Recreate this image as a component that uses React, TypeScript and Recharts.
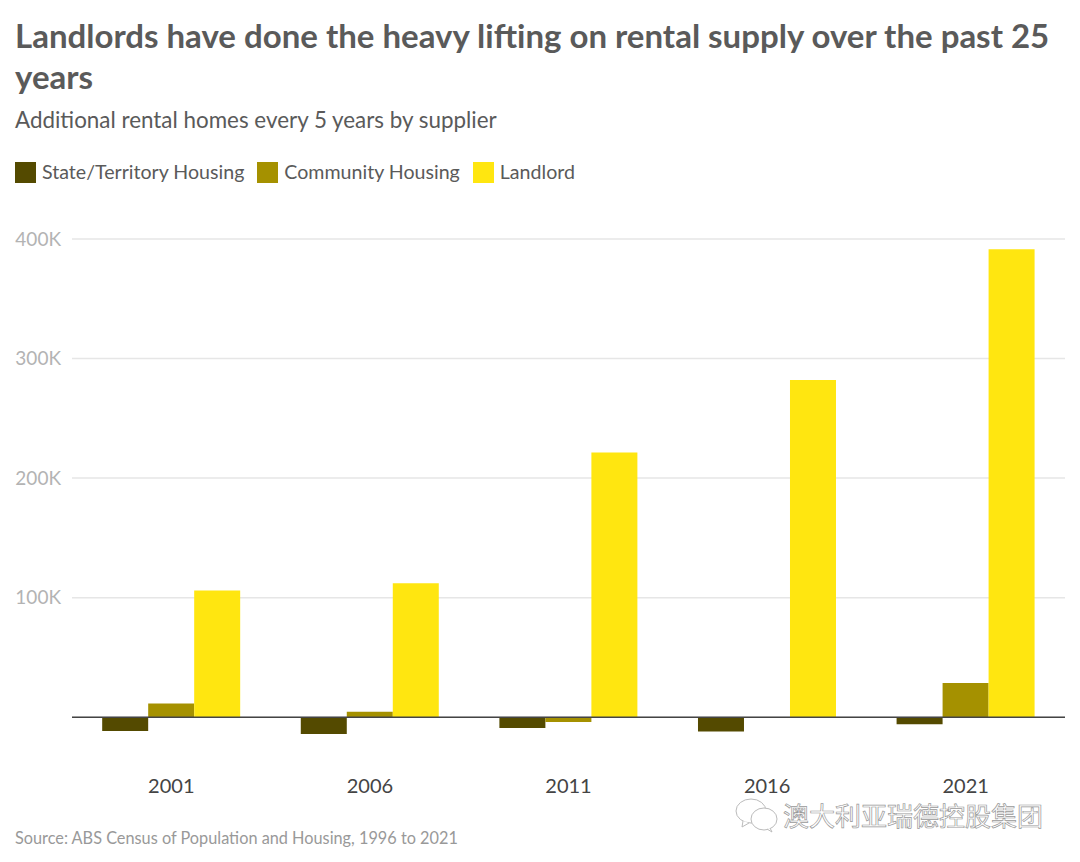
import { BarChart, Bar, XAxis, YAxis, CartesianGrid, Legend, ReferenceLine } from "recharts";

const years = ["2001", "2006", "2011", "2016", "2021"];
const stateHousing = [-11500, -14000, -9000, -12000, -6000];
const communityHousing = [11500, 4500, -4000, 0, 28500];
const landlord = [106000, 112000, 221500, 282000, 391500];
const yTicks = [0, 100000, 200000, 300000, 400000];

const series = [
  { key: "state", name: "State/Territory Housing", color: "#544a00" },
  { key: "community", name: "Community Housing", color: "#a59100" },
  { key: "landlord", name: "Landlord", color: "#ffe610" },
];

const data = years.map((year, i) => ({
  year,
  state: stateHousing[i],
  community: communityHousing[i],
  landlord: landlord[i],
}));

const font = "Lato, sans-serif";

function LegendRow() {
  return (
    <div style={{ display: "flex", fontFamily: font, fontSize: 19.6, color: "#5a5a5a", lineHeight: "22px" }}>
      {series.map((s) => (
        <div key={s.key} style={{ display: "flex", alignItems: "center", marginRight: 13 }}>
          <span style={{ width: 21, height: 21, background: s.color, marginRight: 6 }} />
          <span>{s.name}</span>
        </div>
      ))}
    </div>
  );
}

export default function App() {
  return (
    <div style={{ position: "absolute", left: 0, top: 0, width: 1080, height: 862, background: "#fff", overflow: "hidden" }}>
      <div style={{ position: "absolute", left: 15, top: 14.5, width: 1050, fontFamily: font, fontWeight: 700, fontSize: 33, lineHeight: "41.5px", color: "#5a5a5a" }}>
        Landlords have done the heavy lifting on rental supply over the past 25 years
      </div>
      <div style={{ position: "absolute", left: 15, top: 106, fontFamily: font, fontSize: 22.4, color: "#5a5a5a" }}>
        Additional rental homes every 5 years by supplier
      </div>
      <BarChart
        width={1080}
        height={862}
        data={data}
        margin={{ top: 217, right: 15, bottom: 67, left: 1 }}
        barCategoryGap="15.2%"
        barGap={0}
      >
        <CartesianGrid horizontal vertical={false} horizontalValues={yTicks} stroke="#e6e6e6" strokeWidth={1.5} />
        <XAxis
          dataKey="year"
          axisLine={false}
          tickLine={false}
          tickMargin={8}
          tick={{ fontFamily: font, fontSize: 20, fill: "#444" }}
        />
        <YAxis
          width={71}
          domain={[-40000, 400000]}
          ticks={yTicks}
          axisLine={false}
          tickLine={false}
          tickMargin={5}
          tickFormatter={(v: number) => (v === 0 ? "" : `${v / 1000}K`)}
          tick={{ fontFamily: font, fontSize: 19, fill: "#b3b3b3" }}
        />
        <Legend
          verticalAlign="top"
          align="left"
          content={<LegendRow />}
          wrapperStyle={{ position: "absolute", left: 15, top: 161, width: 800 }}
        />
        {series.map((s) => (
          <Bar key={s.key} dataKey={s.key} name={s.name} fill={s.color} isAnimationActive={false} />
        ))}
        <ReferenceLine y={0} stroke="#444" strokeWidth={1.5} />
      </BarChart>
      <div style={{ position: "absolute", left: 15, top: 828, fontFamily: font, fontSize: 16.3, color: "#999" }}>
        Source: ABS Census of Population and Housing, 1996 to 2021
      </div>
      <svg style={{ position: "absolute", left: 734, top: 796 }} width={46} height={38} fill="#fff" stroke="#bbb" strokeWidth={1}>
        <ellipse cx={17} cy={15} rx={15} ry={12} />
        <path d="M9 25 L8 31 L15 27" />
        <ellipse cx={30} cy={23} rx={13} ry={11} />
        <path d="M36 32 L38 36 L33 33" />
      </svg>
      <div style={{ position: "absolute", left: 783, top: 799, fontFamily: "'Noto Sans CJK SC', sans-serif", fontSize: 26, lineHeight: "32px", color: "#fff", WebkitTextStroke: "0.7px #999", whiteSpace: "nowrap" }}>
        澳大利亚瑞德控股集团
      </div>
    </div>
  );
}
